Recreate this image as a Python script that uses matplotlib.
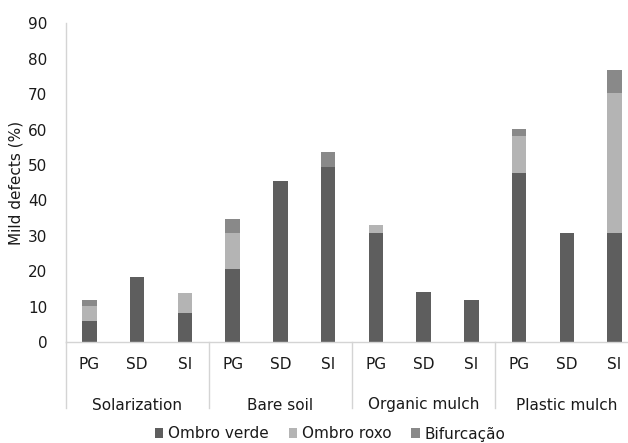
import numpy as np
import matplotlib
matplotlib.use("Agg")
import matplotlib.pyplot as plt

# ── data ──────────────────────────────────────────────────────────────────────
GROUPS      = ["Solarization", "Bare soil", "Organic mulch", "Plastic mulch"]
SUBS        = ["PG", "SD", "SI"]
OMBRO_VERDE = [6.0, 18.4, 8.1, 20.5, 45.6, 49.5, 30.7, 14.0, 11.9, 47.8, 30.7, 30.7]
OMBRO_ROXO  = [4.3, 0.0, 5.8, 10.2, 0.0, 0.0, 2.2, 0.0, 0.0, 10.4, 0.0, 39.7]
BIFURCACAO  = [1.6, 0.0, 0.0, 4.1, 0.0, 4.2, 0.0, 0.0, 0.0, 2.0, 0.0, 6.4]
SERIES      = ["Ombro verde", "Ombro roxo", "Bifurcação"]
# ──────────────────────────────────────────────────────────────────────────────

COLORS    = ["#5e5e5e", "#b4b4b4", "#898989"]
AXIS_GRAY = "#d4d4d4"
TEXT_COL  = "#1a1a1a"
FONT      = "DejaVu Sans"
FS        = 11

plt.rcParams["font.family"] = FONT

W, H = 628, 443
fig = plt.figure(figsize=(W / 100, H / 100), dpi=100)
x0_px, x1_px = 65.5, 638.5
y0_px, y1_px = 342.0, 23.3
ax = fig.add_axes([x0_px / W, (H - y0_px) / H, (x1_px - x0_px) / W, (y0_px - y1_px) / H])

n = len(GROUPS) * len(SUBS)
x = np.arange(n)
verde = np.array(OMBRO_VERDE)
roxo  = np.array(OMBRO_ROXO)
bif   = np.array(BIFURCACAO)

ax.bar(x, verde, width=0.3, color=COLORS[0], label=SERIES[0])
ax.bar(x, roxo, width=0.3, bottom=verde, color=COLORS[1], label=SERIES[1])
ax.bar(x, bif, width=0.3, bottom=verde + roxo, color=COLORS[2], label=SERIES[2])

ax.set_xlim(-0.5, n - 0.5)
ax.set_ylim(0, 90)
ax.set_yticks(np.arange(0, 91, 10))
ax.set_xticks(x)
ax.set_xticklabels(SUBS * len(GROUPS))
ax.tick_params(axis="both", length=0, labelsize=FS, colors=TEXT_COL)
ax.tick_params(axis="y", pad=13)
ax.tick_params(axis="x", pad=11)

for side in ("top", "right"):
    ax.spines[side].set_visible(False)
for side in ("left", "bottom"):
    ax.spines[side].set_color(AXIS_GRAY)
    ax.spines[side].set_linewidth(1.0)

ax.set_ylabel("Mild defects (%)", fontsize=FS, color=TEXT_COL, labelpad=3.5)

# group separators below the axis and group names
trans = ax.get_xaxis_transform()
sep_bottom = -(408 - y0_px) / (y0_px - y1_px)
for k in range(len(GROUPS)):
    xs = k * len(SUBS) - 0.5
    ax.plot([xs, xs], [0, sep_bottom], transform=trans, color=AXIS_GRAY,
            linewidth=1.0, clip_on=False)
    ax.text(k * len(SUBS) + 1, -(405 - y0_px) / (y0_px - y1_px), GROUPS[k],
            transform=trans, ha="center", va="center", fontsize=FS, color=TEXT_COL)

fig.legend(loc="center", bbox_to_anchor=(330 / W, (H - 434) / H), ncol=3,
           frameon=False, fontsize=FS, handlelength=0.55, handleheight=0.55,
           handletextpad=0.3, columnspacing=1.3, labelcolor=TEXT_COL)

fig.savefig("out.png", dpi=100)
plt.close(fig)
